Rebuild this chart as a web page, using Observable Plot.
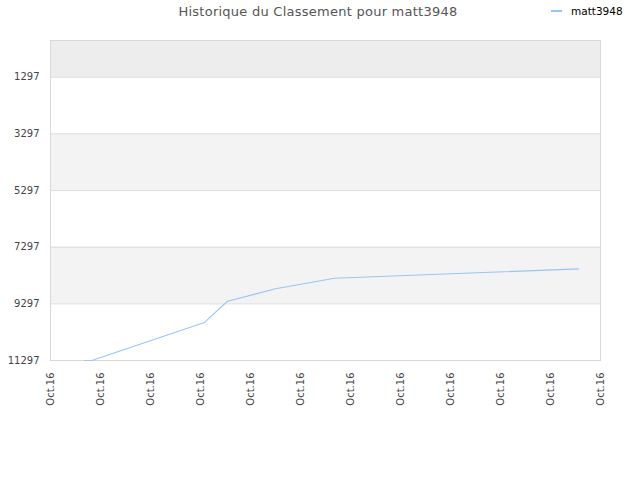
<!DOCTYPE html>
<html><head><meta charset="utf-8">
<script src="https://cdn.jsdelivr.net/npm/d3@7"></script>
<script src="https://cdn.jsdelivr.net/npm/@observablehq/plot@0.6"></script>
<style>
body{margin:0;background:#fff;font-family:"DejaVu Sans",sans-serif}
#wrap{position:relative;width:640px;height:480px}
#title{position:absolute;top:4px;left:0;width:636px;text-align:center;font-size:13px;letter-spacing:0.25px;color:#555;z-index:2}
#legend{position:absolute;top:5px;left:551px;font-size:10.5px;color:#000;z-index:2;white-space:nowrap}
#legend .sw{display:inline-block;width:11px;height:2px;background:#99c5f2;vertical-align:middle;margin-right:9px;position:relative;top:-1px}
#chart{position:absolute;top:0;left:0}
</style></head><body>
<div id="wrap">
<div id="title">Historique du Classement pour matt3948</div>
<div id="legend"><span class="sw"></span><span id="lname"></span></div>
<div id="chart"></div>
</div>
<script>
const seriesName = "matt3948";
const xPos = [0.68, 0.84, 3.08, 3.54, 4.5, 5.68, 10.56];
const ranks = [11297, 11290, 9954, 9205, 8763, 8392, 8063];
const xTicks = [0, 1, 2, 3, 4, 5, 6, 7, 8, 9, 10, 11];
const xTickLabels = ["Oct.16","Oct.16","Oct.16","Oct.16","Oct.16","Oct.16","Oct.16","Oct.16","Oct.16","Oct.16","Oct.16","Oct.16"];
const yTicks = [1297, 3297, 5297, 7297, 9297, 11297];
const bandFrom = [0, 3297, 7297];
const bandTo = [1297, 5297, 9297];
const bandFill = ["#ededed", "#f3f3f3", "#f3f3f3"];

document.getElementById("lname").textContent = seriesName;

const data = xPos.map((x, i) => ({x, rank: ranks[i]}));
const bands = bandFrom.map((a, i) => ({a, b: bandTo[i], fill: bandFill[i]}));

const chart = Plot.plot({
  width: 640,
  height: 480,
  marginTop: 40,
  marginLeft: 50,
  marginRight: 40,
  marginBottom: 120,
  style: {fontFamily: "DejaVu Sans, sans-serif", fontSize: "10px", color: "#444", background: "transparent"},
  x: {domain: [0, 11], ticks: xTicks, tickFormat: (d, i) => xTickLabels[i], tickRotate: -90, tickSize: 0, tickPadding: 12, label: null},
  y: {domain: [11297, 0], range: [360, 40], ticks: yTicks, tickSize: 0, tickPadding: 11, label: null, tickFormat: d => String(d)},
  marks: [
    Plot.rectY(bands, {x1: 0, x2: 11, y1: "a", y2: "b", fill: d => d.fill}),
    Plot.ruleY(yTicks, {stroke: "#dddddd", strokeWidth: 1}),
    Plot.frame({stroke: "#d8d8d8"}),
    Plot.line(data, {x: "x", y: "rank", stroke: "#99c5f2", strokeWidth: 1.1})
  ]
});
document.getElementById("chart").appendChild(chart);
</script>
</body></html>
